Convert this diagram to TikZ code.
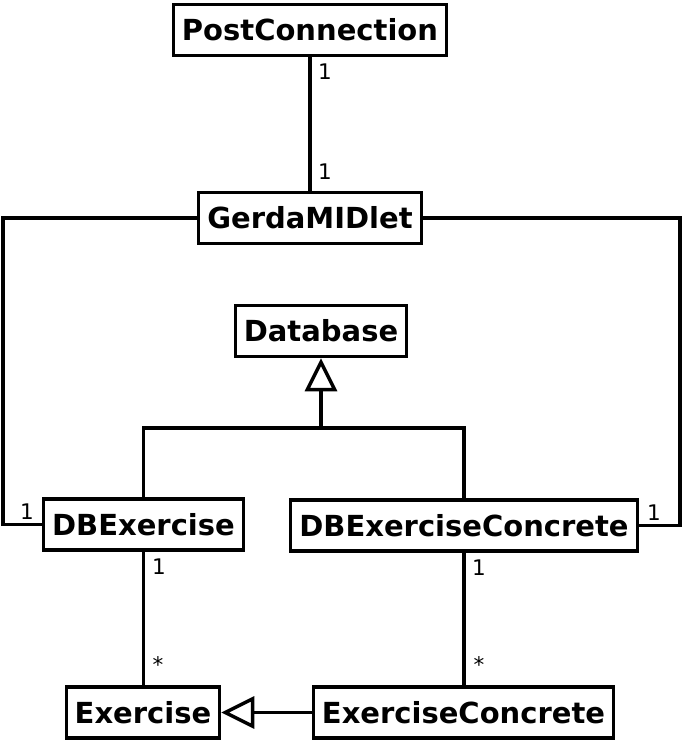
\documentclass[tikz,border=0pt]{standalone}
\usepackage{fontspec}
\setmainfont{DejaVu Sans}
\usetikzlibrary{arrows.meta}
\begin{document}
\begin{tikzpicture}[x=1pt,y=-1pt, line width=3.5pt,
  cls/.style={draw, fill=white, font=\bfseries\fontsize{29}{31}\selectfont, minimum height=51pt, inner sep=0pt},
  mult/.style={font=\fontsize{21.5}{23}\selectfont, inner sep=0pt},
  inh/.style={-{Triangle[open,length=33pt,width=32pt]}}]
\useasboundingbox (0,0) rectangle (684,745);
\node[cls, minimum width=273pt] (pc) at (310,30) {PostConnection};
\node[cls, minimum width=223pt] (gm) at (310,218) {GerdaMIDlet};
\node[cls, minimum width=171pt] (db) at (321,331) {Database};
\node[cls, minimum width=200pt] (dbx) at (143.5,524.5) {DBExercise};
\node[cls, minimum width=347pt] (dbc) at (464,525.5) {DBExerciseConcrete};
\node[cls, minimum width=153pt] (ex) at (143,712.5) {Exercise};
\node[cls, minimum width=300pt] (exc) at (463.5,712.5) {ExerciseConcrete};
\coordinate (j) at (321,428);
\coordinate (gl) at (3,218);
\coordinate (gr) at (680,218);
% associations
\draw (pc.south) -- (gm.north);
\draw (gm.west) -- (gl) |- (dbx.west);
\draw (gm.east) -- (gr) |- (dbc.east);
\draw (dbx.south) -- (dbx.south |- ex.north);
\draw (dbc.south) -- (dbc.south |- exc.north);
% inheritance
\draw (dbx.north) |- (j) -| (dbc.north);
\draw[inh] (j) -- (db.south);
\draw[inh] (exc.west) -- (ex.east);
% multiplicities
\node[mult] (m1) at (325,72) {1};
\node[mult] (m2) at (325,172) {1};
\node[mult] (m3) at (27,512) {1};
\node[mult] (m4) at (159,567) {1};
\node[mult] (m5) at (158,665) {*};
\node[mult] (m6) at (654,513) {1};
\node[mult] (m7) at (479,568) {1};
\node[mult] (m8) at (479,665) {*};
\end{tikzpicture}
\end{document}
